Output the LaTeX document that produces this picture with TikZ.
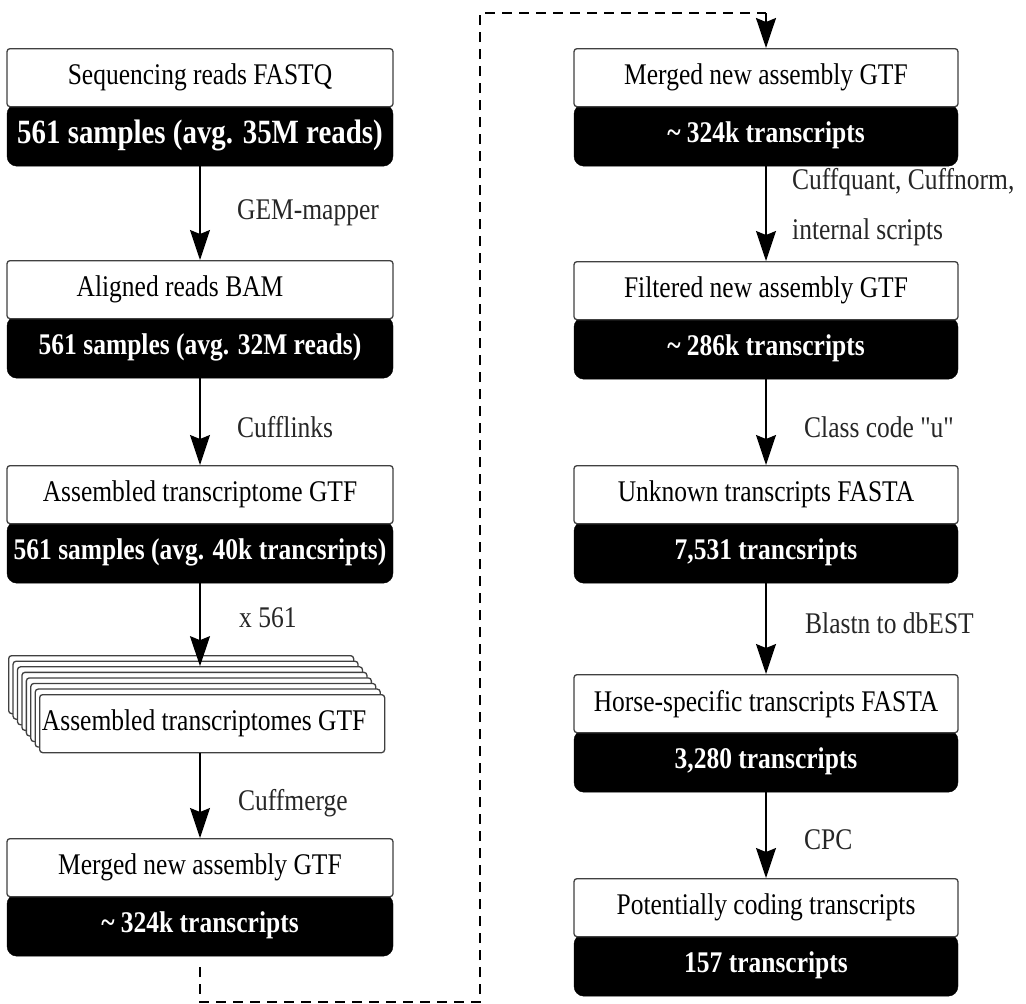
\documentclass[tikz,border=0pt]{standalone}
\usepackage{fontspec}
\setmainfont{Liberation Serif}[FakeStretch=0.85]
\newfontfamily\rawserif{Liberation Serif}[FakeStretch=0.85]
\usetikzlibrary{arrows.meta}
\newcommand\pairbox[6]{%
  \node[bbox, minimum width=#4] (#1b) at (#2,#3+56) {#6};
  \node[wbox, minimum width=#4] (#1w) at (#2,#3) {#5};
}
\begin{document}
\begin{tikzpicture}[x=1pt,y=-1pt,
  txt/.style={font=\fontsize{30}{36}\selectfont},
  wbox/.style={txt, draw=black!75, line width=1.3pt, fill=white, rounded corners=3pt,
    minimum height=58pt, anchor=north, inner sep=0pt},
  bbox/.style={txt, font=\fontsize{30}{36}\selectfont\bfseries, fill=black, draw=black,
    rounded corners=10pt, minimum height=62pt, anchor=north, text=white, inner sep=0pt},
  layer/.style={draw=black!75, line width=1.3pt, fill=white, rounded corners=3pt,
    minimum height=58pt, minimum width=345pt, anchor=north west, inner sep=0pt, txt},
  lbl/.style={txt, anchor=west, inner sep=0pt, text=black!85},
  flow/.style={-{Stealth[length=30pt,width=20pt,inset=4pt]}, line width=1.5pt},
  dashline/.style={line width=2pt, dash pattern=on 10pt off 7pt}
]
\useasboundingbox (0,0) rectangle (1026,1004);

% left column
\pairbox{A1}{200}{48}{386pt}{Sequencing reads FASTQ}{\fontsize{34}{40}\selectfont 561 samples (avg. 35M reads)}
\pairbox{A2}{200}{260}{386pt}{\hspace*{-40pt}Aligned reads BAM}{561 samples (avg. 32M reads)}
\pairbox{A3}{200}{465}{386pt}{Assembled transcriptome GTF}{561 samples (avg. 40k trancsripts)}
\foreach \i in {0,...,6}{
  \node[layer] (L\i) at (8+\i*4.43, 655+\i*5.57) {};
}
\node[layer] (L7) at (39, 694) {\hspace*{-16pt}Assembled transcriptomes GTF};
\pairbox{A5}{200}{838}{386pt}{Merged new assembly GTF}{\textasciitilde\ 324k transcripts}

% right column
\pairbox{B1}{766}{48}{384pt}{Merged new assembly GTF}{\textasciitilde\ 324k transcripts}
\pairbox{B2}{766}{261}{384pt}{Filtered new assembly GTF}{\textasciitilde\ 286k transcripts}
\pairbox{B3}{766}{465}{384pt}{Unknown transcripts FASTA}{7,531 trancsripts}
\pairbox{B4}{766}{674}{384pt}{Horse-specific transcripts FASTA}{3,280 transcripts}
\pairbox{B5}{766}{878}{384pt}{Potentially coding transcripts}{157 transcripts}

% left arrows and labels
\draw[flow] (A1b.south) -- (A2w.north);
\node[lbl] (l1) at (237,213) {GEM-mapper};
\draw[flow] (A2b.south) -- (A3w.north);
\node[lbl] (l2) at (237,427) {Cufflinks};
\draw[flow] (A3b.south) -- (A3b.south |- L2.north);
\node[lbl] (l3) at (239,618) {x 561};
\draw[flow] (A5w.north |- L7.south) -- (A5w.north);
\node[lbl] (l4) at (238,803) {Cuffmerge};

% right arrows and labels
\draw[flow] (B1b.south) -- (B2w.north);
\node[lbl] (r1) at (792,182) {Cuffquant, Cuffnorm,};
\node[lbl] (r1b) at (792,232) {internal scripts};
\draw[flow] (B2b.south) -- (B3w.north);
\node[lbl] (r2) at (804,427) {{\rawserif Class code "u"}};
\draw[flow] (B3b.south) -- (B4w.north);
\node[lbl] (r3) at (805,623) {Blastn to dbEST};
\draw[flow] (B4b.south) -- (B5w.north);
\node[lbl] (r4) at (804,840) {CPC};

% dashed connector
\coordinate (d0) at (200,967);
\coordinate (d1) at (200,1002);
\coordinate (d2) at (480,1002);
\coordinate (d3) at (480,13);
\coordinate (d4) at (766,13);
\draw[dashline] (d0) -- (d1) -- (d2) -- (d3) -- (d4);
\draw[flow, dashline] (d4) -- (B1w.north);
\end{tikzpicture}
\end{document}
